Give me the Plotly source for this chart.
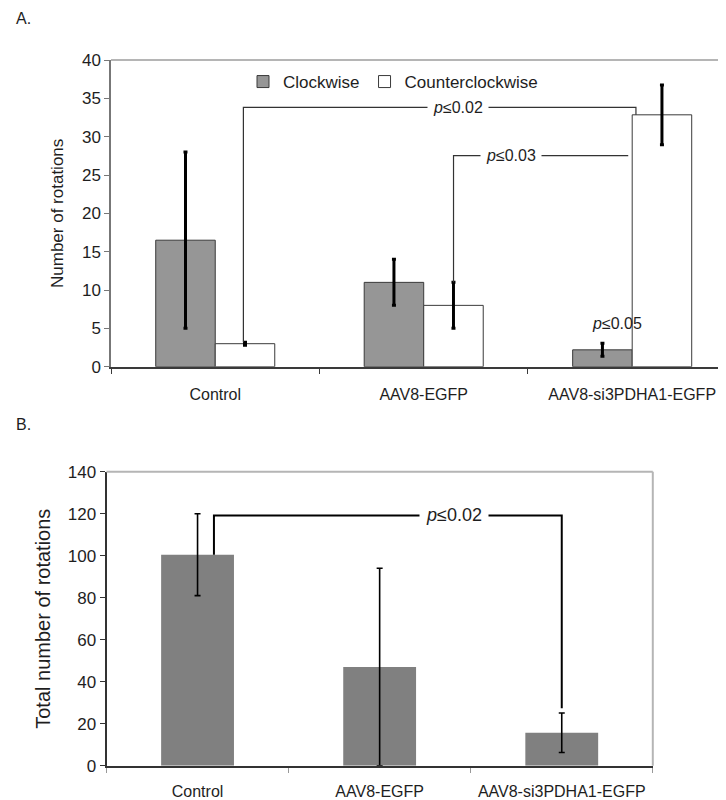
import plotly.graph_objects as go

# ---------------- data ----------------
categories = ["Control", "AAV8-EGFP", "AAV8-si3PDHA1-EGFP"]

# Panel A
clockwise = [16.5, 11.0, 2.2]
clockwise_err = [11.5, 3.0, 0.85]
counter = [3.0, 8.0, 32.85]
counter_err = [0.2, 3.0, 3.9]

# Panel B
total = [100.5, 47.0, 15.7]
total_err = [19.5, 47.0, 9.4]

pA_labels = ["<i>p</i>≤0.02", "<i>p</i>≤0.03", "<i>p</i>≤0.05"]
pB_label = "<i>p</i>≤0.02"

A_yticks = [0, 5, 10, 15, 20, 25, 30, 35, 40]
B_yticks = [0, 20, 40, 60, 80, 100, 120, 140]

xpos = list(range(len(categories)))
FONT = "Liberation Sans, Arial, sans-serif"
TXT = "#1e1e1e"

fig = go.Figure()

fig.add_trace(go.Bar(
    x=xpos, y=clockwise, name="Clockwise", xaxis="x", yaxis="y",
    marker=dict(color="#969696", line=dict(color="#3a3a3a", width=1)),
    error_y=dict(type="data", array=clockwise_err, color="black", thickness=3, width=2),
))
fig.add_trace(go.Bar(
    x=xpos, y=counter, name="Counterclockwise", xaxis="x", yaxis="y",
    marker=dict(color="white", line=dict(color="#3a3a3a", width=1)),
    error_y=dict(type="data", array=counter_err, color="black", thickness=3, width=2),
))
fig.add_trace(go.Bar(
    x=xpos, y=total, name="Total", xaxis="x2", yaxis="y2", showlegend=False,
    width=0.4,
    marker=dict(color="#808080", line=dict(width=0)),
    error_y=dict(type="data", array=total_err, color="black", thickness=1.6, width=3),
))

# page body has an 8px margin: figure is drawn at (8, 8) in the 726x800 window
OFF = 8
W, H = 726 - OFF, 800 - OFF
def px2fx(p):
    return (p - OFF) / W
def py2fy(p):
    return 1 - (p - OFF) / H

fig.update_layout(
    width=W, height=H,
    margin=dict(l=0, r=0, t=0, b=0, autoexpand=False),
    paper_bgcolor="white", plot_bgcolor="white",
    barmode="group", bargap=0.429, bargroupgap=0,
    font=dict(family=FONT, color=TXT, size=16),
    showlegend=True,
    legend=dict(orientation="h", x=px2fx(243), y=py2fy(82), xanchor="left", yanchor="middle",
                font=dict(size=17, color=TXT), bgcolor="rgba(0,0,0,0)",
                itemwidth=30, traceorder="normal"),
    xaxis=dict(domain=[px2fx(111), 1.0], anchor="y", range=[-0.5, 2.45],
               tickvals=xpos, ticktext=categories, ticks="outside", ticklen=12,
               tickcolor="rgba(0,0,0,0)", showline=True, linecolor="#3a3a3a", linewidth=1.5,
               showgrid=False, zeroline=False, tickfont=dict(size=16, color=TXT),
               minor=dict(tick0=-0.5, dtick=1, ticks="outside", ticklen=6,
                          tickcolor="#3a3a3a", tickwidth=1.2, showgrid=False)),
    yaxis=dict(domain=[py2fy(366.7), py2fy(60)], anchor="x", range=[0, 40],
               tickvals=A_yticks, ticks="outside", ticklen=5, tickcolor="#777",
               showline=True, linecolor="#777", linewidth=1.5, showgrid=False,
               zeroline=False, tickfont=dict(size=17, color=TXT),
               title=dict(text="Number of rotations", font=dict(size=17, color=TXT), standoff=14)),
    xaxis2=dict(domain=[px2fx(106.5), px2fx(652.8)], anchor="y2", range=[-0.5, 2.5],
                tickvals=xpos, ticktext=categories, ticks="outside", ticklen=10,
                tickcolor="rgba(0,0,0,0)", showline=True, linecolor="#333", linewidth=2,
                showgrid=False, zeroline=False, tickfont=dict(size=16, color=TXT),
                minor=dict(tick0=-0.5, dtick=1, ticks="outside", ticklen=5,
                           tickcolor="#999", tickwidth=1, showgrid=False)),
    yaxis2=dict(domain=[py2fy(765.7), py2fy(471.7)], anchor="x2", range=[0, 140],
                tickvals=B_yticks, ticks="outside", ticklen=5, tickcolor="#333",
                showline=True, linecolor="#333", linewidth=2, showgrid=False,
                zeroline=False, tickfont=dict(size=17, color=TXT),
                title=dict(text="Total number of rotations", font=dict(size=20, color=TXT), standoff=12)),
)

shapes = []
# panel A top border
shapes.append(dict(type="line", xref="x domain", yref="y domain", x0=0, x1=1, y0=1, y1=1,
                   line=dict(color="#b5b5b5", width=2)))
# panel B top & right border
shapes.append(dict(type="line", xref="x2 domain", yref="y2 domain", x0=0, x1=1, y0=1, y1=1,
                   line=dict(color="#b5b5b5", width=2)))
shapes.append(dict(type="line", xref="x2 domain", yref="y2 domain", x0=1, x1=1, y0=0, y1=1,
                   line=dict(color="#b5b5b5", width=2)))

LA = dict(color="#333", width=1.2)
# bracket p<=0.02 (A)
shapes.append(dict(type="path", xref="x", yref="y",
                   path=f"M 0.135 {counter[0] + counter_err[0]} L 0.135 33.83 L 2.018 33.83 L 2.018 {counter[2]}",
                   line=LA))
# bracket p<=0.03 (A)
shapes.append(dict(type="path", xref="x", yref="y",
                   path=f"M 1.143 {counter[1] + counter_err[1]} L 1.143 27.52 L 1.981 27.52",
                   line=LA))
# bracket p<=0.02 (B)
shapes.append(dict(type="path", xref="x2", yref="y2",
                   path=f"M 0.09 {total[0]} L 0.09 119.2 L 2.0 119.2 L 2.0 27.3",
                   line=dict(color="black", width=2)))
fig.update_layout(shapes=shapes)

ann = []
ann.append(dict(xref="x", yref="y", x=1.164, y=33.83, text=pA_labels[0], showarrow=False,
                font=dict(size=16, color=TXT), bgcolor="white", borderpad=5))
ann.append(dict(xref="x", yref="y", x=1.421, y=27.52, text=pA_labels[1], showarrow=False,
                font=dict(size=16, color=TXT), bgcolor="white", borderpad=5))
ann.append(dict(xref="x", yref="y", x=1.927, y=5.7, text=pA_labels[2], showarrow=False,
                font=dict(size=16, color=TXT)))
ann.append(dict(xref="x2", yref="y2", x=1.407, y=119.2, text=pB_label, showarrow=False,
                font=dict(size=18, color=TXT), bgcolor="white", borderpad=6))
ann.append(dict(xref="paper", yref="paper", x=px2fx(14), y=py2fy(18), xanchor="left", yanchor="middle",
                text="A.", showarrow=False, font=dict(size=16, color=TXT)))
ann.append(dict(xref="paper", yref="paper", x=px2fx(14), y=py2fy(424), xanchor="left", yanchor="middle",
                text="B.", showarrow=False, font=dict(size=16, color=TXT)))
fig.update_layout(annotations=ann)

fig.write_html("out.html")
